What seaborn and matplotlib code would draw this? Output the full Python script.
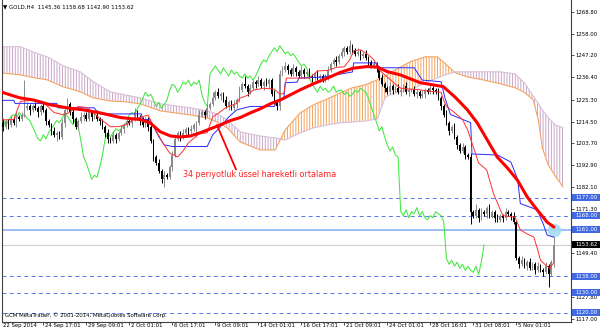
import matplotlib
matplotlib.use("Agg")
import numpy as np
import matplotlib.pyplot as plt
import matplotlib.transforms as mtransforms
from matplotlib.patches import Rectangle
import seaborn as sns

# ---------------- data ----------------
first_open = 1216.0
close = [
    1214, 1212, 1215, 1213, 1216, 1214, 1217, 1216, 1218, 1221,
    1222, 1220, 1222, 1221, 1219, 1222, 1220, 1215, 1213, 1210,
    1208, 1209, 1207, 1214, 1220, 1223, 1219, 1216, 1212, 1215,
    1217, 1218, 1216, 1219, 1217, 1218, 1216, 1215, 1212, 1209,
    1206, 1205, 1208, 1206, 1209, 1211, 1213, 1215, 1214, 1216,
    1219, 1217, 1215, 1213, 1216, 1212, 1205, 1197, 1194, 1190,
    1186, 1188, 1187, 1192, 1198, 1206, 1209, 1207, 1209, 1211,
    1210, 1211, 1213, 1214, 1218, 1219, 1218, 1221, 1223, 1226,
    1229, 1227, 1228, 1225, 1222, 1224, 1221, 1223, 1225, 1230,
    1233, 1232, 1229, 1231, 1234, 1233, 1235, 1232, 1234, 1233,
    1235, 1228, 1224, 1222, 1238, 1240, 1242, 1240, 1238, 1241,
    1239, 1237, 1240, 1238, 1239, 1237, 1236, 1238, 1236, 1237,
    1235, 1237, 1240, 1243, 1245, 1244, 1247, 1249, 1251, 1249,
    1252, 1250, 1248, 1249, 1247, 1248, 1246, 1244, 1242, 1243,
    1241, 1236, 1233, 1231, 1229, 1232, 1230, 1231, 1229, 1230,
    1232, 1229, 1230, 1230, 1228, 1229, 1227, 1228, 1230, 1229,
    1231, 1230, 1229, 1226, 1222, 1218, 1214, 1210, 1212, 1207,
    1203, 1200, 1202, 1198, 1197, 1170, 1168, 1171, 1167, 1170,
    1169, 1172, 1168, 1170, 1167, 1166, 1168, 1167, 1170, 1169,
    1168, 1165, 1147, 1144, 1146, 1143, 1145, 1142, 1144, 1141,
    1143, 1141, 1140, 1143, 1139, 1145.36, 1153.62,
]
up_wick = [
    1, 2, 1, 1, 2, 1, 2, 1, 1, 14,
    2, 1, 1, 2, 1, 1, 2, 1, 1, 1,
    2, 1, 1, 2, 1, 3, 1, 2, 1, 1,
    2, 1, 1, 2, 1, 1, 2, 1, 1, 1,
    2, 1, 2, 1, 1, 2, 1, 1, 2, 1,
    2, 1, 1, 2, 1, 1, 2, 1, 1, 2,
    1, 2, 1, 1, 2, 2, 1, 1, 2, 1,
    1, 2, 1, 1, 2, 1, 1, 2, 1, 3,
    1, 2, 1, 1, 2, 1, 1, 2, 1, 2,
    1, 4, 1, 2, 1, 1, 2, 1, 1, 2,
    1, 1, 2, 1, 2, 2, 2, 1, 1, 2,
    1, 1, 2, 1, 1, 2, 1, 1, 2, 1,
    1, 1, 2, 1, 1, 2, 1, 2, 1, 1,
    3, 1, 1, 2, 1, 1, 2, 1, 1, 2,
    1, 1, 2, 1, 1, 2, 1, 1, 2, 1,
    1, 2, 1, 1, 2, 1, 1, 2, 1, 1,
    2, 1, 1, 2, 1, 1, 2, 1, 1, 2,
    1, 1, 2, 1, 1, 2, 1, 3, 1, 2,
    1, 1, 2, 1, 1, 2, 1, 1, 2, 1,
    1, 2, 1, 1, 2, 1, 1, 2, 1, 1,
    2, 1, 1, 2, 1, 1, 5.06,
]
dn_wick = [
    1, 2, 1, 2, 1, 1, 2, 1, 1, 1,
    1, 2, 1, 1, 2, 1, 1, 2, 1, 2,
    1, 3, 1, 1, 2, 1, 1, 2, 1, 1,
    1, 2, 1, 1, 2, 1, 1, 2, 1, 2,
    2, 1, 1, 2, 1, 1, 2, 1, 1, 2,
    1, 1, 2, 1, 1, 2, 1, 2, 1, 1,
    2, 4, 1, 1, 2, 1, 1, 2, 1, 1,
    2, 1, 1, 6, 1, 1, 2, 1, 1, 1,
    1, 1, 2, 1, 1, 2, 1, 1, 2, 1,
    1, 1, 2, 1, 1, 2, 1, 1, 2, 1,
    2, 1, 1, 2, 2, 1, 1, 2, 1, 1,
    2, 1, 1, 2, 1, 1, 2, 1, 1, 2,
    1, 1, 2, 1, 1, 2, 1, 1, 2, 1,
    1, 2, 1, 1, 2, 1, 1, 2, 1, 1,
    2, 1, 1, 2, 1, 1, 2, 1, 1, 2,
    1, 1, 2, 1, 1, 2, 1, 1, 2, 1,
    1, 2, 1, 1, 2, 1, 1, 2, 1, 1,
    2, 1, 1, 2, 1, 6, 1, 1, 2, 1,
    1, 2, 1, 1, 2, 1, 1, 2, 1, 1,
    2, 1, 1, 2, 1, 1, 2, 1, 1, 2,
    1, 1, 2, 1, 6, 1, 2.46,
]

ema_bar = [0, 3.7, 7.4, 12.3, 18.6, 24.9, 30.9, 37.2, 44.7, 52.1,
           55.8, 59.5, 63.3, 67, 70.7, 74.4, 78.1, 81.9, 85.6, 89.3,
           93, 96.7, 100.5, 104.2, 107.9, 111.6, 116.5, 121.7, 126.5, 131.3,
           136.6, 140.3, 144, 148.8, 156.3, 164.8, 169.3, 173.8, 177.5, 181.2,
           184.9, 188.7, 192.4, 196.1, 199.8, 203.5, 206]
ema_val = [1229.3, 1227.7, 1226.2, 1225.2, 1222.8, 1221.3, 1220.3, 1218.8, 1216.5, 1215.5,
           1213.8, 1209.5, 1207.4, 1206.9, 1207.4, 1209.0, 1210.9, 1212.9, 1215.0, 1216.5,
           1218.8, 1220.8, 1223.3, 1225.2, 1227.7, 1230.2, 1233.2, 1236.0, 1238.8, 1240.9,
           1241.7, 1241.4, 1239.2, 1237.6, 1233.7, 1231.8, 1226.5, 1220.3, 1213.8, 1205.4,
           1197.0, 1191.6, 1185.6, 1177.2, 1170.8, 1164.8, 1162.4]

tenkan_bar = [0, 5, 7.5, 12, 16, 20, 23, 25, 29, 32,
              35, 37, 41, 44, 47, 50, 52, 55, 56, 58,
              60, 63, 66, 68, 70, 74, 77, 79, 81, 84,
              86, 88, 89, 92, 94, 98, 102, 104, 105.5, 106.5,
              110, 115, 118, 122, 125, 128, 130, 131.5, 134, 137,
              139, 141, 144, 147, 149, 153, 156, 160, 164, 165,
              166, 169, 172, 174, 176, 178, 181, 183.5, 187, 191.5,
              193.5, 196, 198.5, 200, 201, 203, 204.5, 206]
tenkan_val = [1215.3, 1215.5, 1224.5, 1225.0, 1224.0, 1219.0, 1218.0, 1218.5, 1222.0, 1221.5,
              1218.5, 1216.0, 1212.0, 1212.0, 1213.0, 1216.0, 1216.5, 1217.8, 1215.0, 1210.0,
              1205.0, 1199.0, 1197.0, 1200.0, 1204.0, 1208.5, 1209.0, 1216.8, 1218.5, 1221.5,
              1222.5, 1223.5, 1226.0, 1227.5, 1230.0, 1231.0, 1230.5, 1228.0, 1228.5, 1236.0,
              1236.0, 1236.0, 1239.5, 1239.8, 1241.3, 1241.6, 1245.0, 1249.5, 1250.0, 1247.5,
              1245.0, 1240.0, 1236.5, 1233.0, 1231.0, 1230.5, 1230.2, 1229.5, 1229.0, 1225.0,
              1222.0, 1219.0, 1215.5, 1210.0, 1202.0, 1194.0, 1190.6, 1179.0, 1168.0, 1167.3,
              1161.0, 1159.0, 1157.5, 1151.0, 1146.0, 1143.5, 1142.0, 1145.0]

kijun_bar = [0, 5, 5.5, 21, 21.5, 35, 36, 37, 52.5, 53,
             55.5, 57, 59, 61, 64, 77, 79, 82, 85, 88,
             93, 102, 103, 105.5, 106, 110.5, 111, 120, 131, 131.5,
             140, 141, 154, 157, 164, 165.5, 167.5, 175, 175.5, 185,
             190, 192.5, 193.5, 200, 201, 202, 203.5, 206]
kijun_val = [1225.0, 1225.0, 1223.5, 1223.5, 1221.3, 1221.3, 1219.3, 1218.3, 1218.3, 1215.5,
             1215.5, 1212.0, 1207.0, 1203.0, 1202.2, 1202.2, 1207.9, 1212.0, 1216.8, 1220.3,
             1222.0, 1222.0, 1225.0, 1225.5, 1233.7, 1234.0, 1236.0, 1236.5, 1239.0, 1243.5,
             1243.5, 1241.1, 1241.1, 1235.0, 1234.2, 1226.0, 1218.0, 1214.0, 1198.5, 1198.0,
             1194.5, 1186.0, 1174.0, 1170.8, 1167.0, 1164.0, 1158.4, 1157.4]

cloud_bar = [0, 7.4, 13.0, 17.5, 23.4, 29.8, 34.6, 40.9, 46.5, 52.1,
             59.5, 65.1, 70.7, 77.0, 80.7, 84.5, 89.3, 96.7, 102.3, 106.0,
             111.6, 116.5, 121.7, 126.5, 131.0, 135.8, 140.3, 143.3, 147.0, 152.6,
             158.1, 162.6, 165.6, 169.3, 173.8, 179.7, 186.0, 191.6, 195.3, 198.3,
             200.2, 201.7, 203.9, 206.5, 209.4]
span_a = [1238.6, 1237.6, 1236.1, 1235.1, 1231.7, 1229.2, 1226.2, 1224.7, 1224.3, 1223.3,
          1219.8, 1218.8, 1217.8, 1216.3, 1214.3, 1211.4, 1204.4, 1200.5, 1200.5, 1210.4,
          1218.8, 1222.8, 1225.7, 1228.7, 1231.2, 1232.7, 1235.1, 1237.1, 1240.1, 1244.1,
          1246.5, 1246.5, 1243.1, 1238.6, 1236.6, 1235.1, 1233.2, 1231.2, 1228.7, 1225.2,
          1215.3, 1201.5, 1193.1, 1187.6, 1182.2]
span_b = [1251.5, 1251.5, 1248.5, 1246.5, 1242.1, 1239.1, 1234.2, 1229.2, 1227.7, 1226.2,
          1223.3, 1222.3, 1221.3, 1219.8, 1218.3, 1215.3, 1209.4, 1207.4, 1206.4, 1205.4,
          1208.9, 1211.4, 1212.9, 1213.9, 1214.3, 1214.8, 1215.8, 1226.7, 1228.7, 1230.2,
          1233.7, 1236.1, 1237.6, 1239.1, 1239.1, 1239.1, 1239.1, 1238.1, 1233.2, 1227.2,
          1223.3, 1220.3, 1216.3, 1212.9, 1211.4]
chikou_shift = 26

ytick_vals = [1268.80, 1258.00, 1247.20, 1236.40, 1225.30, 1214.50, 1203.70,
              1192.90, 1182.10, 1171.30, 1149.40, 1127.80, 1117.00]
first_date_label = "22 Sep 2014"
date_bars = [16, 32, 48, 64, 80, 96, 112, 128, 144, 160, 176, 192]
date_labels = ["24 Sep 17:01", "29 Sep 09:01", "2 Oct 01:01",
               "6 Oct 17:01", "9 Oct 09:01", "14 Oct 01:01", "16 Oct 17:01",
               "21 Oct 09:01", "24 Oct 01:01", "28 Oct 16:01", "31 Oct 08:01",
               "5 Nov 01:01"]
dashed_levels = [1177.00, 1168.00, 1138.00, 1130.00, 1120.00]
solid_level = 1161.00
last_price = 1153.62
marker_bar, marker_price = 205.9, 1161.0
header_text = "\u25BC GOLD,H4  1145.36 1158.68 1142.90 1153.62"
copyright_text = "GCM MetaTrader, \u00A9 2001-2014, MetaQuotes Software Corp."
annot_text = "34 periyotluk \u00FCssel hareketli ortalama"
annot_tip = (80.6, 1212.8)
annot_tail = (87.7, 1190.9)
annot_pos = (68.0, 1188.3)

# ---------------- figure ----------------
sns.set_theme(style="white")
plt.rcParams['font.family'] = ['DejaVu Sans']
plt.rcParams['hatch.linewidth'] = 0.7

W, H = 600, 333
fig = plt.figure(figsize=(W / 100, H / 100), dpi=100)
fig.patch.set_facecolor('white')
ax_left, ax_right, ax_top, ax_bot = 1.5, 571.0, 0.0, 321.7
ax = fig.add_axes([ax_left / W, (H - ax_bot) / H, (ax_right - ax_left) / W, (ax_bot - ax_top) / H])
ax.set_facecolor('white')

# cloud
cb = np.array(cloud_bar); sa = np.array(span_a); sb = np.array(span_b)
ax.fill_between(cb, sa, sb, where=sa >= sb, interpolate=True, facecolor='none',
                edgecolor='#F4A460', hatch='||||||', linewidth=0, zorder=1)
ax.fill_between(cb, sa, sb, where=sb > sa, interpolate=True, facecolor='none',
                edgecolor='#C9A6C9', hatch='||||||', linewidth=0, zorder=1)
sns.lineplot(x=cb, y=sa, ax=ax, color='#F4A460', linewidth=0.8, zorder=1.5, sort=False, estimator=None)
sns.lineplot(x=cb, y=sb, ax=ax, color='#D8BFD8', linewidth=0.8, zorder=1.5, sort=False, estimator=None)

# horizontal levels
for lv in dashed_levels:
    ax.axhline(lv, color='#5577E8', linewidth=0.7, linestyle=(0, (4, 3.5)), zorder=2)
ax.axhline(solid_level, color='#9DBCF5', linewidth=1.4, zorder=2)
ax.axhline(last_price, color='#CFCFCF', linewidth=0.8, zorder=2)

# chikou
cl = np.array(close, dtype=float)
bars = np.arange(len(cl))
sns.lineplot(x=bars[chikou_shift:] - chikou_shift, y=cl[chikou_shift:], ax=ax,
             color='#3FE83F', linewidth=0.75, zorder=2.5, sort=False, estimator=None)

# candles
op = np.r_[first_open, cl[:-1]]
bull = cl >= op
bhi = np.maximum(op, cl); blo = np.minimum(op, cl)
hi = bhi + np.array(up_wick); lo = blo - np.array(dn_wick)
ax.vlines(bars[bull], lo[bull], hi[bull], color='#8A8A8A', linewidth=0.7, zorder=3)
ax.vlines(bars[~bull], lo[~bull], hi[~bull], color='#000000', linewidth=0.7, zorder=3)
heights = np.maximum(bhi - blo, 0.5)
ax.bar(bars, heights, bottom=blo, width=0.62,
       color=np.where(bull, '#8A8A8A', '#000000'), linewidth=0, zorder=3.1)

# indicators
ax.scatter([marker_bar], [marker_price], s=95, color='#A6DCEF', alpha=0.9, linewidths=0, zorder=3.5)
sns.lineplot(x=kijun_bar, y=kijun_val, ax=ax, color='#2A2AFF', linewidth=0.7, zorder=4, sort=False, estimator=None)
sns.lineplot(x=tenkan_bar, y=tenkan_val, ax=ax, color='#FF3030', linewidth=0.7, zorder=4, sort=False, estimator=None)
sns.lineplot(x=ema_bar, y=ema_val, ax=ax, color='#FF0000', linewidth=2.2, zorder=5, sort=False, estimator=None)

# annotation
ax.annotate('', xy=annot_tip, xytext=annot_tail,
            arrowprops=dict(arrowstyle='-', color='#FF0000', lw=1.3, shrinkA=0, shrinkB=0), zorder=6)
ax.text(annot_pos[0], annot_pos[1], annot_text, color='#FF2020', fontsize=5.8,
        ha='left', va='center', zorder=6)

# axes limits (pixel geometry of the reference)
px_per_bar = 2.6875
ax.set_xlim((ax_left - 0.3) / px_per_bar, (ax_right - 0.3) / px_per_bar)
px_per_unit = 2.024
ax.set_ylim(1268.8 - (ax_bot - 11.7) / px_per_unit, 1268.8 + (11.7 - ax_top) / px_per_unit)

# spines
for s in ['left', 'right', 'bottom']:
    ax.spines[s].set_color('#404040')
    ax.spines[s].set_linewidth(0.8)
ax.spines['top'].set_visible(False)

# y ticks on right
ax.yaxis.tick_right()
ax.set_yticks(ytick_vals)
ax.set_yticklabels([f"{v:.2f}" for v in ytick_vals])
ax.tick_params(axis='y', which='major', right=True, left=False, direction='out', length=2.2,
               width=0.6, color='#333333', pad=0.8, labelsize=3.9, labelcolor='black')

# x ticks
ax.set_xticks(date_bars)
ax.set_xticklabels(date_labels)
ax.tick_params(axis='x', which='major', bottom=True, direction='out', length=2.2, width=0.6,
               color='#333333', pad=-1.0, labelsize=3.9, labelcolor='black')
offset = mtransforms.ScaledTranslation(2 / 100, 0, fig.dpi_scale_trans)
for lab in ax.get_xticklabels():
    lab.set_ha('left')
    lab.set_transform(lab.get_transform() + offset)
fig.text(3 / W, 1 - 323.4 / H, first_date_label, fontsize=3.9, ha='left', va='top', color='black')
ax.grid(False)

# price labels on the scale
trans = mtransforms.blended_transform_factory(fig.transFigure, ax.transData)
box_h = 7 / px_per_unit
box_levels = dashed_levels + [solid_level]
for lv in box_levels:
    fig.add_artist(Rectangle((572 / W, lv - box_h / 2), 28 / W, box_h, transform=trans,
                             facecolor='#4169E1', edgecolor='none', zorder=10, clip_on=False))
    fig.add_artist(plt.Text(575 / W, lv, f"{lv:.2f}", transform=trans, color='white',
                            fontsize=3.9, ha='left', va='center', zorder=11))
fig.add_artist(Rectangle((572 / W, last_price - box_h / 2), 28 / W, box_h, transform=trans,
                         facecolor='#000000', edgecolor='none', zorder=10, clip_on=False))
fig.add_artist(plt.Text(575 / W, last_price, f"{last_price:.2f}", transform=trans, color='white',
                        fontsize=3.9, ha='left', va='center', zorder=11))

# header and footer text
fig.text(3 / W, 1 - 6.7 / H, header_text, fontsize=4.0, ha='left', va='center', color='black')
fig.text(5 / W, 1 - 315 / H, copyright_text, fontsize=3.9, ha='left', va='center', color='black')

fig.savefig("out.png", dpi=100, facecolor='white')
